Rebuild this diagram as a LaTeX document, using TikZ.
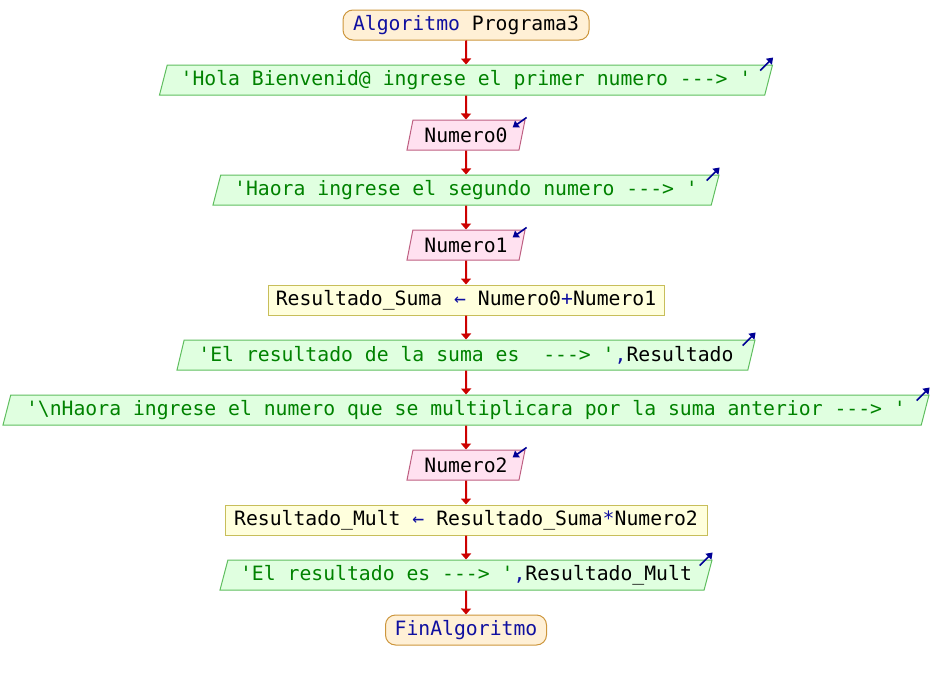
\documentclass[tikz,border=0pt]{standalone}
\usepackage{fontspec}
\setmonofont{DejaVu Sans Mono}
\usetikzlibrary{shapes.geometric,arrows.meta}
\definecolor{termfill}{RGB}{255,240,214}
\definecolor{termdraw}{RGB}{205,150,60}
\definecolor{kwblue}{RGB}{16,16,160}
\definecolor{outfill}{RGB}{224,255,224}
\definecolor{outdraw}{RGB}{95,190,95}
\definecolor{strgreen}{RGB}{0,130,0}
\definecolor{infill}{RGB}{255,225,240}
\definecolor{indraw}{RGB}{190,95,130}
\definecolor{procfill}{RGB}{255,255,221}
\definecolor{procdraw}{RGB}{200,190,90}
\definecolor{flowred}{RGB}{204,0,0}
\definecolor{ionavy}{RGB}{0,0,150}
\begin{document}
\begin{tikzpicture}[x=1pt,y=-1pt,
  font=\ttfamily\fontsize{19.75}{22}\selectfont,
  term/.style={rectangle, draw=termdraw, fill=termfill, rounded corners=10pt,
    minimum height=30pt, inner sep=0pt, line width=1pt},
  outp/.style={trapezium, trapezium left angle=68.2, trapezium right angle=111.8,
    trapezium stretches body, draw=outdraw, fill=outfill, minimum height=30pt,
    inner sep=0pt, line width=1pt},
  inp/.style={trapezium, trapezium left angle=68.2, trapezium right angle=111.8,
    trapezium stretches body, draw=indraw, fill=infill, minimum height=30pt,
    minimum width=118pt, inner sep=0pt, line width=1pt},
  proc/.style={rectangle, draw=procdraw, fill=procfill, minimum height=30pt,
    inner sep=0pt, line width=1pt},
  flow/.style={draw=flowred, line width=2pt, -{Triangle[length=6pt,width=10pt]}},
  ioarrow/.style={draw=ionavy, line width=1.6pt, -{Triangle[length=6pt,width=8pt]}}
]
\useasboundingbox (0,0) rectangle (932,680);

\node[term, minimum width=246pt] (s) at (466,25) {{\color{kwblue}Algoritmo} Programa3};
\node[outp, minimum width=613pt] (o1) at (466,80) {\color{strgreen}'Hola Bienvenid@ ingrese el primer numero ---> '};
\node[inp] (i0) at (466,135) {Numero0};
\node[outp, minimum width=506pt] (o2) at (466,190) {\color{strgreen}'Haora ingrese el segundo numero ---> '};
\node[inp] (i1) at (466,245) {Numero1};
\node[proc, minimum width=396pt] (p1) at (466,300) {Resultado\_Suma {\color{kwblue}←} Numero0{\color{kwblue}+}Numero1};
\node[outp, minimum width=578pt] (o3) at (466,355) {{\color{strgreen}'El resultado de la suma es~~---> '}{\color{kwblue},}Resultado};
\node[outp, minimum width=926pt] (o4) at (466,410) {\color{strgreen}'\textbackslash nHaora ingrese el numero que se multiplicara por la suma anterior ---> '};
\node[inp] (i2) at (466,465) {Numero2};
\node[proc, minimum width=482pt] (p2) at (466,520) {Resultado\_Mult {\color{kwblue}←} Resultado\_Suma{\color{kwblue}*}Numero2};
\node[outp, minimum width=492pt] (o5) at (466,575) {{\color{strgreen}'El resultado es ---> '}{\color{kwblue},}Resultado\_Mult};
\node[term, minimum width=161pt] (e) at (466,630) {\color{kwblue}FinAlgoritmo};

\draw[flow] (s.south) -- (o1.north);
\draw[flow] (o1.south) -- (i0.north);
\draw[flow] (i0.south) -- (o2.north);
\draw[flow] (o2.south) -- (i1.north);
\draw[flow] (i1.south) -- (p1.north);
\draw[flow] (p1.south) -- (o3.north);
\draw[flow] (o3.south) -- (o4.north);
\draw[flow] (o4.south) -- (i2.north);
\draw[flow] (i2.south) -- (p2.north);
\draw[flow] (p2.south) -- (o5.north);
\draw[flow] (o5.south) -- (e.north);

\foreach \n in {o1,o2,o3,o4,o5}
  \draw[ioarrow] ([xshift=-13pt,yshift=-6pt]\n.top right corner) -- ([xshift=0pt,yshift=7pt]\n.top right corner);
\foreach \n in {i0,i1,i2}
  \draw[ioarrow] ([xshift=1pt,yshift=2pt]\n.top right corner) -- ([xshift=-13pt,yshift=-8pt]\n.top right corner);
\end{tikzpicture}
\end{document}
